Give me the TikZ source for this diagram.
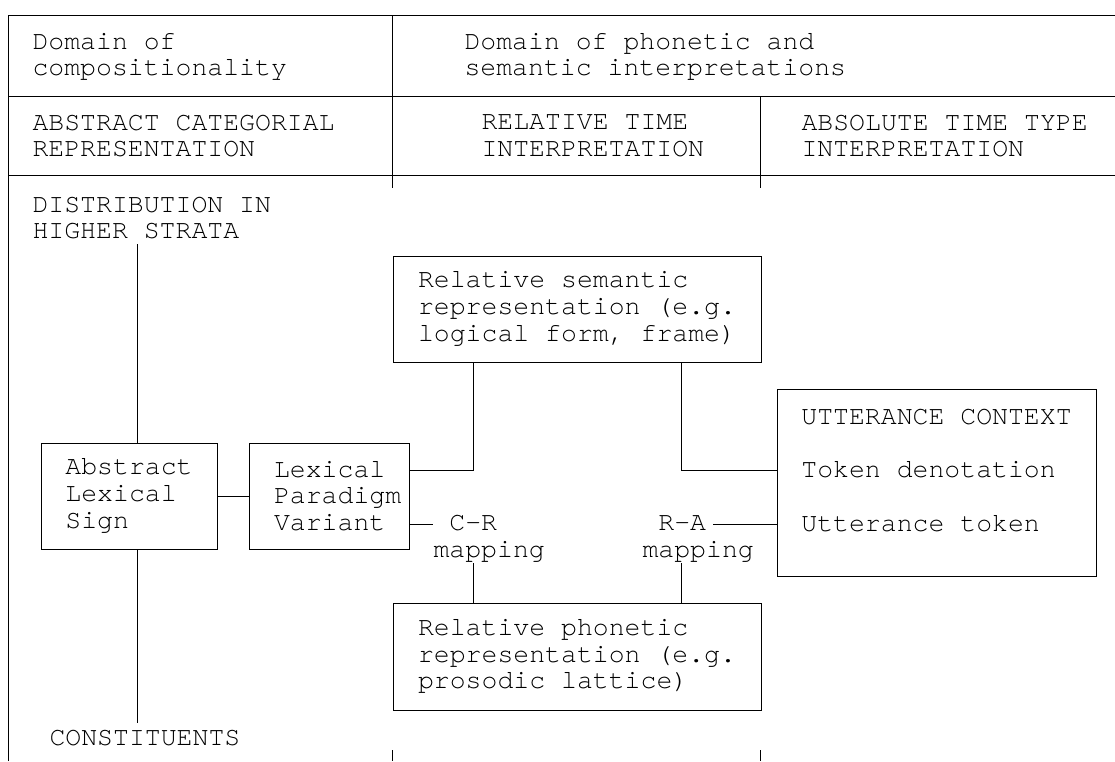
\documentclass[tikz,border=0pt]{standalone}
\usepackage{fontspec}
\setmainfont{TeX Gyre Cursor}
\usetikzlibrary{calc}
\hyphenpenalty=10000

\begin{document}
\begin{tikzpicture}[x=1pt,y=-1pt,font=\fontsize{26.5pt}{26.7pt}\selectfont,line width=1pt,box/.style={draw,align=left,inner xsep=0pt,inner ysep=0pt},lbl/.style={align=left,inner sep=0pt,anchor=west}]
\useasboundingbox (0,0) rectangle (1115,761);
\draw (8,761)--(8,15)--(1115,15);
\draw (8,96)--(1115,96);
\draw (8,175)--(1115,175);
\draw (392,15)--(392,188);
\draw (760,96)--(760,188);
\draw (392,750)--(392,761);
\draw (760,750)--(760,761);
\node[lbl] (comp) at (32,57) {Domain of\\compositionality};
\node[lbl] (interp) at (464,57) {Domain of phonetic and\\semantic interpretations};
\node[lbl] (abscat) at (32,136) {ABSTRACT CATEGORIAL\\REPRESENTATION};
\node[lbl] (reltime) at (481,136) {RELATIVE TIME\\INTERPRETATION};
\node[lbl] (abstime) at (801,136) {ABSOLUTE TIME TYPE\\INTERPRETATION};
\node[lbl] (distrib) at (32,218) {DISTRIBUTION IN\\HIGHER STRATA};
\node[lbl] (constit) at (49,738) {CONSTITUENTS};
\node[box,minimum width=176pt,minimum height=106pt] (abs) at (129,496) {Abstract\\Lexical\\Sign};
\node[box,text width=110pt,inner xsep=25pt,minimum height=106pt] (lex) at (329,496) {Lexical\\Paradigm\\Variant};
\node[box,minimum width=368pt,minimum height=106pt] (sem) at (577,309) {Relative semantic\\representation (e.g.\\logical form, frame)};
\node[box,minimum width=368pt,minimum height=107pt] (phon) at (577,656.5) {Relative phonetic\\representation (e.g.\\prosodic lattice)};
\node[box,minimum width=319pt,minimum height=187pt] (utt) at (936.5,482.5) {UTTERANCE CONTEXT\\[27pt]Token denotation\\[27pt]Utterance token\\[-2pt]\mbox{}};
\node[lbl] (crmap) at (433,539) {\phantom{X}C-R\\mapping};
\node[lbl] (ramap) at (642,539) {\phantom{X}R-A\\mapping};
\coordinate (raend) at (713,524);
\coordinate (crx) at ($(phon.north)+(-104,0)$);
\coordinate (rax) at ($(phon.north)+(104,0)$);
\draw ($(abs.north)+(8,0)$) -- ($(abs.north |- distrib.south)+(8,4)$);
\draw ($(abs.south)+(8,0)$) -- ($(abs.south |- constit.north)+(8,-7)$);
\draw (abs) -- (lex);
\draw ($(lex.east)+(0,-26)$) -| ($(sem.south)+(-104,0)$);
\draw ($(sem.south)+(104,0)$) |- ($(utt.west)+(0,-12.5)$);
\draw ($(lex.east)+(0,28)$) coordinate (crin) -- (crin -| crmap.west);
\draw (raend) -- (raend -| utt.west);
\draw (crx) -- (crx |- crmap.south);
\draw (rax) -- (rax |- ramap.south);
\end{tikzpicture}
\end{document}
